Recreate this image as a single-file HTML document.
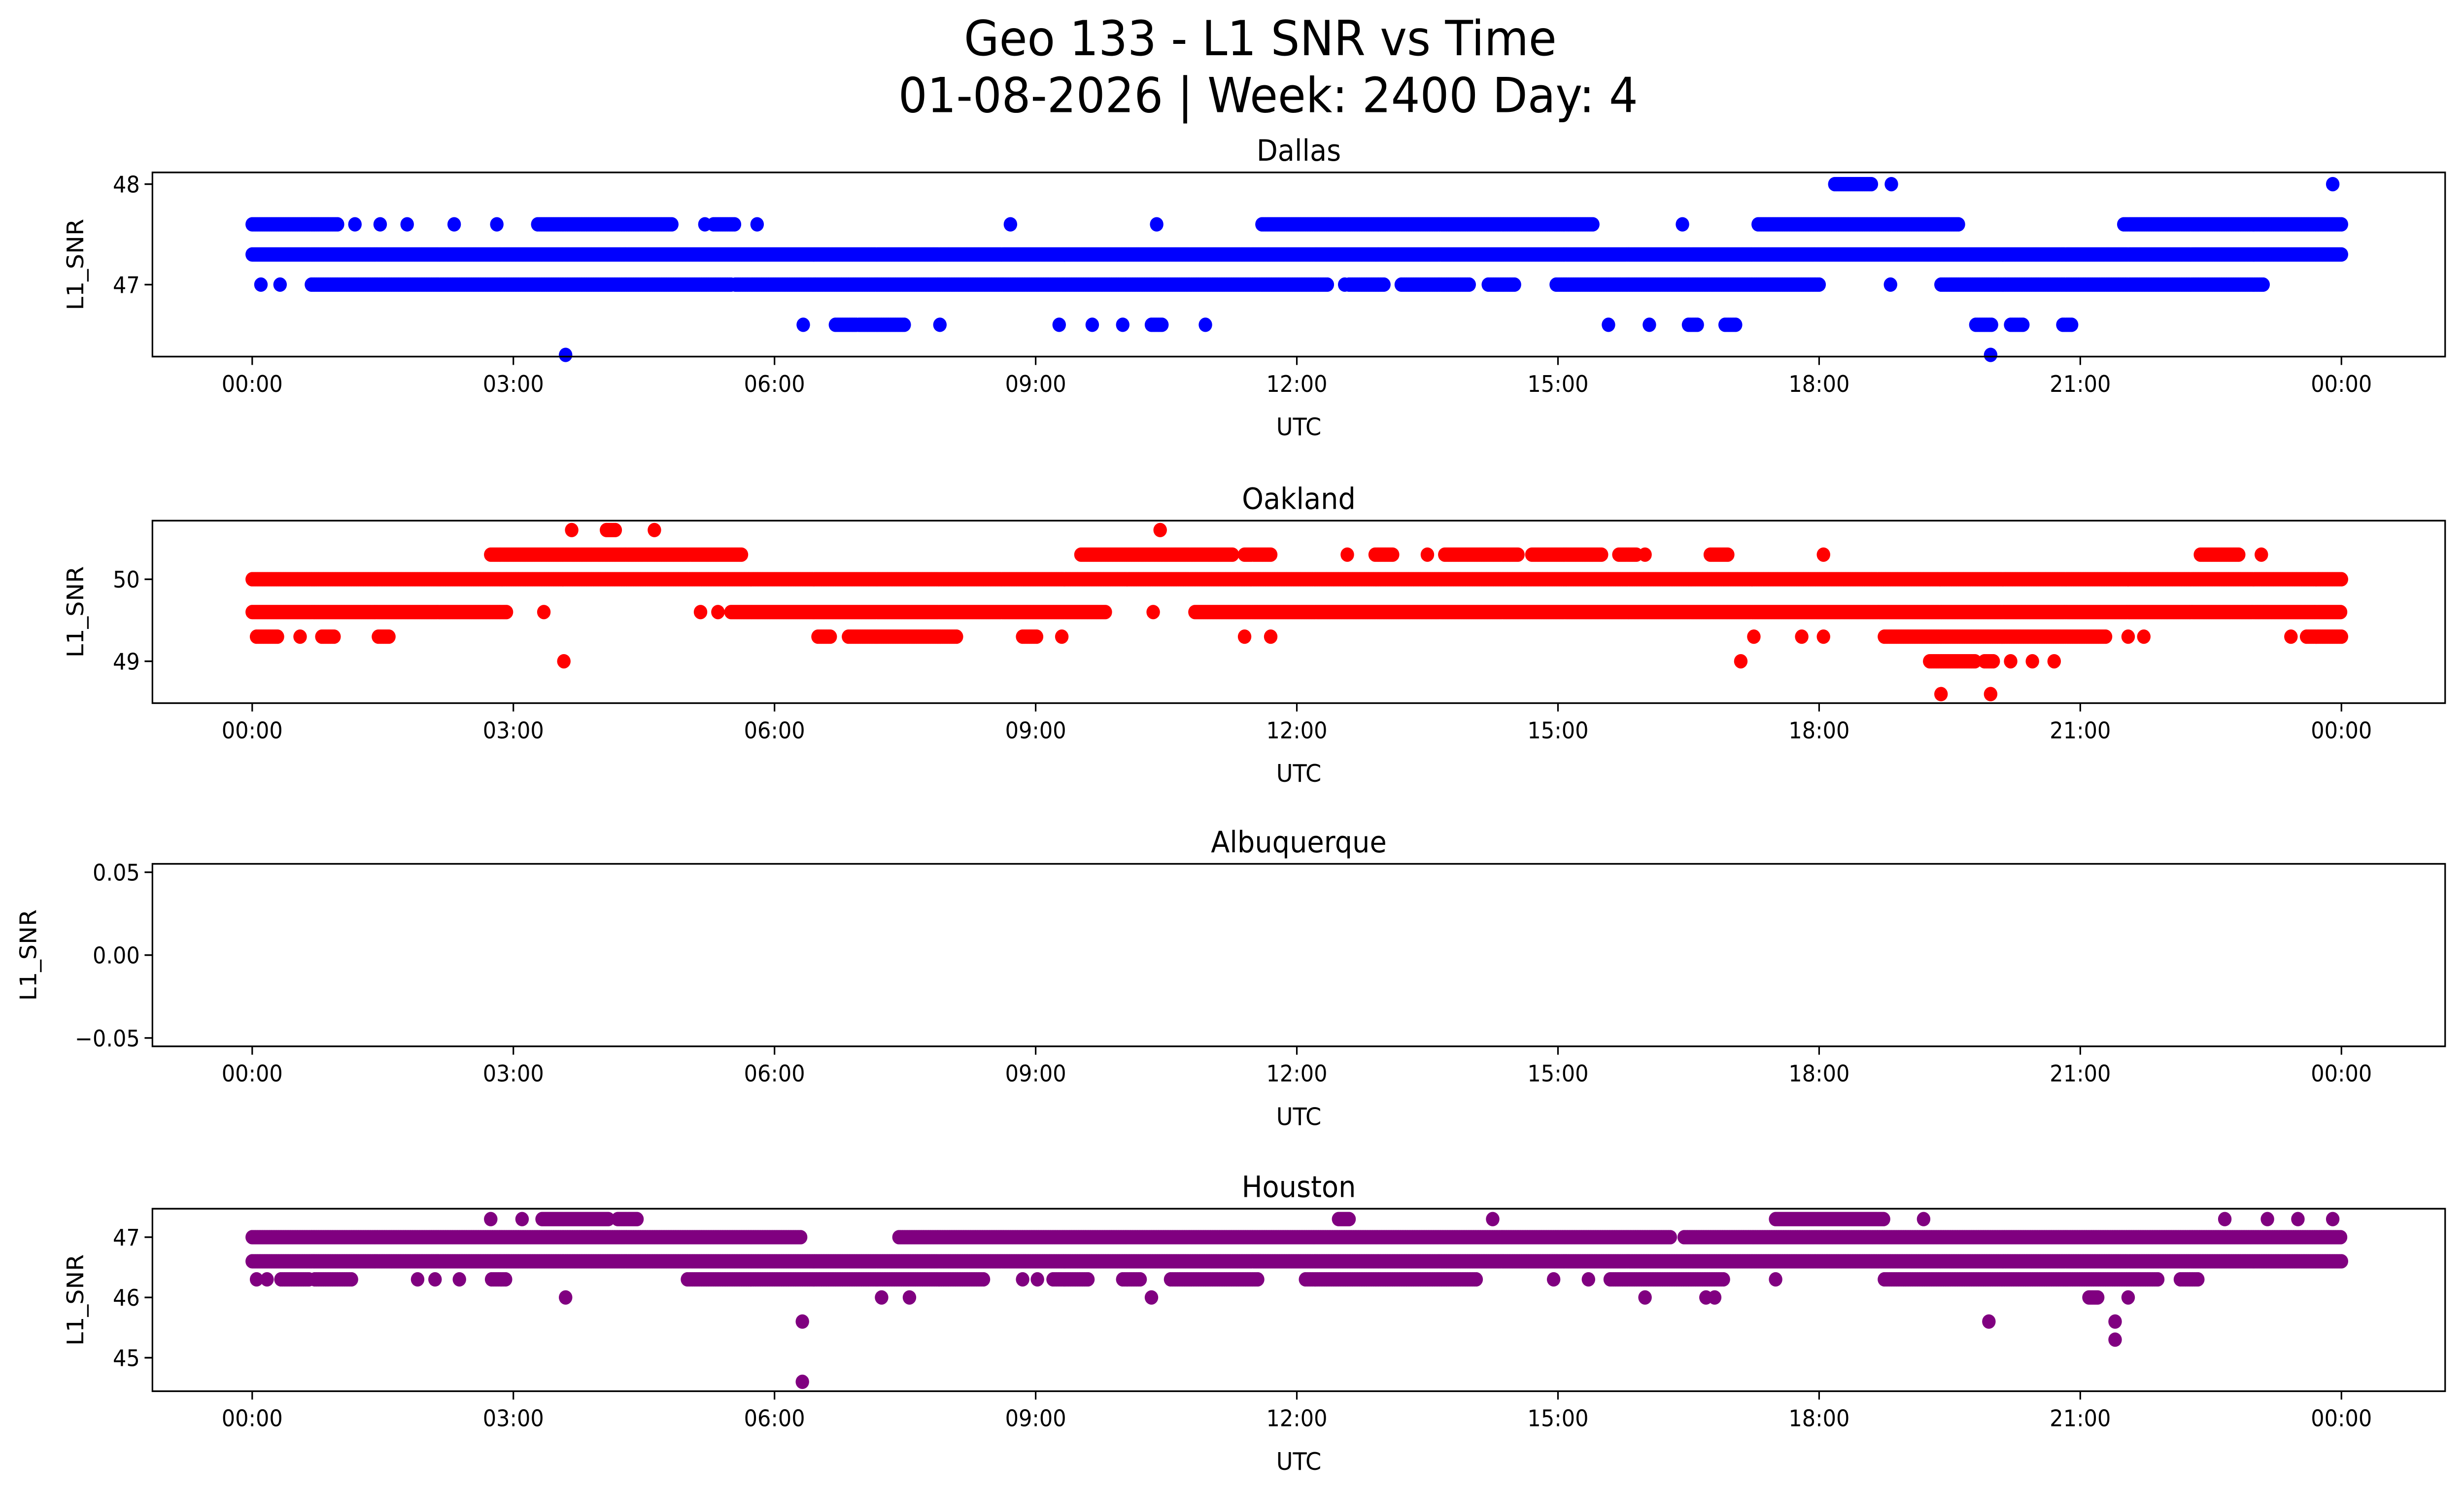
<!DOCTYPE html>
<html><head><meta charset="utf-8">
<style>html,body{margin:0;padding:0;background:#fff;width:100%;height:100%;overflow:hidden}svg{display:block;width:100vw;height:100vh}text{font-family:"DejaVu Sans","Liberation Sans",sans-serif;fill:#000}</style>
</head><body>
<svg id="fig" xmlns="http://www.w3.org/2000/svg" viewBox="0 0 1568 893" preserveAspectRatio="none">
<rect width="1568" height="893" fill="#fff"/>
<text x="802" y="33" font-size="29" text-anchor="middle">Geo 133 - L1 SNR vs Time</text>
<text x="807" y="67" font-size="29" text-anchor="middle">01-08-2026 | Week: 2400 Day: 4</text>
<g id="panels"></g>
</svg>
<script>
// x tick labels (hours)
const xTickHours = [0,3,6,9,12,15,18,21,24];
const xTickLabels = ["00:00","03:00","06:00","09:00","12:00","15:00","18:00","21:00","00:00"];
// panel names
const stations = ["Dallas","Oakland","Albuquerque","Houston"];
// y tick values per panel
const dallasTicks = [47,48];
const oaklandTicks = [49,50];
const albuqTicks = [-0.05,0,0.05];
const houstonTicks = [45,46,47];
// runs: [snr, startHour, endHour]; singles: [snr, hour]
const dallasRuns = [[47.3,0,24],[47.6,0,0.99],[47.6,3.28,4.83],[47.6,5.3,5.55],[47.6,11.6,15.4],[47.6,17.3,19.6],[47.6,21.5,24],
 [47.0,0.68,5.5],[47.0,5.55,12.35],[47.0,12.6,13.0],[47.0,13.2,13.98],[47.0,14.2,14.5],[47.0,14.98,18.0],[47.0,19.4,23.1],
 [46.6,6.7,6.95],[46.6,6.97,7.5],[46.6,10.33,10.45],[46.6,16.5,16.6],[46.6,16.92,17.05],[46.6,19.8,19.98],[46.6,20.2,20.35],[46.6,20.8,20.9],[48.0,18.18,18.6]];
const dallasSingles = [[47.6,1.18],[47.6,1.47],[47.6,1.78],[47.6,2.32],[47.6,2.81],[47.6,5.2],[47.6,5.8],[47.6,8.71],[47.6,10.39],[47.6,16.43],
 [47.0,0.1],[47.0,0.32],[47.0,12.55],[47.0,18.82],[46.6,6.33],[46.6,7.9],[46.6,9.27],[46.6,9.65],[46.6,10.0],[46.6,10.95],[46.6,15.58],[46.6,16.05],
 [46.3,3.6],[46.3,19.97],[48.0,18.83],[48.0,23.9]];
const oaklandRuns = [[50.0,0,24],[49.6,0,2.92],[49.6,5.5,9.8],[49.6,10.83,24],[49.3,0.05,0.3],[49.3,0.8,0.95],[49.3,1.45,1.58],[49.3,6.5,6.65],[49.3,6.85,8.1],[49.3,8.85,9.02],[49.3,18.75,21.3],[49.3,23.6,24],
 [50.3,2.74,5.62],[50.3,9.52,11.27],[50.3,11.4,11.7],[50.3,12.9,13.1],[50.3,13.7,14.55],[50.3,14.7,15.5],[50.3,15.7,15.9],[50.3,16.75,16.95],[50.3,22.38,22.82],
 [50.6,4.07,4.17],[49.0,19.27,19.8],[49.0,19.9,20.0]];
const oaklandSingles = [[49.6,3.35],[49.6,5.15],[49.6,5.35],[49.6,10.35],[49.3,0.55],[49.3,9.3],[49.3,11.4],[49.3,11.7],[49.3,17.25],[49.3,17.8],[49.3,18.05],[49.3,21.55],[49.3,21.73],[49.3,23.42],
 [50.3,12.58],[50.3,13.5],[50.3,16.0],[50.3,18.05],[50.3,23.08],[50.6,3.67],[50.6,4.62],[50.6,10.43],[49.0,3.58],[49.0,17.1],[49.0,20.2],[49.0,20.45],[49.0,20.7],[48.6,19.4],[48.6,19.97]];
const albuqRuns = [];
const albuqSingles = [];
const houstonRuns = [[46.6,0,24],[47.0,0,6.31],[47.0,7.43,16.3],[47.0,16.45,24],[46.3,0.33,0.65],[46.3,0.72,1.15],[46.3,2.75,2.92],[46.3,5.0,8.4],[46.3,9.2,9.6],[46.3,10.0,10.2],[46.3,10.55,11.55],[46.3,12.1,14.07],[46.3,15.6,16.9],[46.3,18.75,21.9],[46.3,22.15,22.35],
 [47.3,3.33,4.1],[47.3,4.2,4.42],[47.3,12.48,12.6],[47.3,17.5,18.75],[46.0,21.1,21.2]];
const houstonSingles = [[46.3,0.05],[46.3,0.17],[46.3,1.9],[46.3,2.1],[46.3,2.38],[46.3,8.85],[46.3,9.02],[46.3,14.95],[46.3,15.35],[46.3,17.5],
 [47.3,2.74],[47.3,3.1],[47.3,14.25],[47.3,19.2],[47.3,22.66],[47.3,23.15],[47.3,23.5],[47.3,23.9],
 [46.0,3.6],[46.0,7.23],[46.0,7.55],[46.0,10.33],[46.0,16.0],[46.0,16.7],[46.0,16.8],[46.0,21.55],[45.6,6.32],[45.6,19.95],[45.6,21.4],[45.3,21.4],[44.6,6.32]];
const dallasColor="#0000ff", oaklandColor="#ff0000", houstonColor="#800080";

const NS="http://www.w3.org/2000/svg";
const X0=97, X1=1556, H0=160.5, H24=1490;
function xScale(h){return H0+(H24-H0)*h/24;}
const panelDefs=[
 {name:stations[0],top:103,bot:213,yA:[48,110],yB:[47,170],ticks:dallasTicks,runs:dallasRuns,singles:dallasSingles,color:dallasColor,ylx:48},
 {name:stations[1],top:311,bot:420,yA:[50,346],yB:[49,395],ticks:oaklandTicks,runs:oaklandRuns,singles:oaklandSingles,color:oaklandColor,ylx:48},
 {name:stations[2],top:516,bot:625,yA:[0.05,521],yB:[0,570.5],ticks:albuqTicks,runs:albuqRuns,singles:albuqSingles,color:"#000",ylx:18},
 {name:stations[3],top:722,bot:831,yA:[47,739],yB:[46,775],ticks:houstonTicks,runs:houstonRuns,singles:houstonSingles,color:houstonColor,ylx:48}];
const root=document.getElementById('panels');
function mk(tag,attrs,parent){const e=document.createElementNS(NS,tag);for(const k in attrs)e.setAttribute(k,attrs[k]);parent.appendChild(e);return e;}
panelDefs.forEach(p=>{
 const slug=p.name.toLowerCase();
 const g=mk('g',{},root);
 
 
 const yScale=v=>p.yB[1]+(v-p.yB[0])*(p.yA[1]-p.yB[1])/(p.yA[0]-p.yB[0]);
 const dots=mk('g',{fill:p.color},g);
 
 
 const pts=[];
 p.runs.forEach(r=>{for(let h=r[1];h<=r[2]+1e-9;h+=0.02)pts.push([r[0],h]);});
 p.singles.forEach(s=>pts.push(s));
 pts.forEach(s=>{const c=mk('circle',{cx:xScale(s[1]).toFixed(2),cy:yScale(s[0]).toFixed(2),r:4.3},dots);
  
  });
 const fr=mk('rect',{x:X0,y:p.top,width:X1-X0,height:p.bot-p.top,fill:'none',stroke:'#000','stroke-width':1},g);
 
 
 xTickHours.forEach((h,i)=>{const x=xScale(h);
  mk('line',{x1:x,x2:x,y1:p.bot,y2:p.bot+5,stroke:'#000','stroke-width':1},g);
  const t=mk('text',{x:x,y:p.bot+21,'font-size':13.5,'text-anchor':'middle'},g);t.textContent=xTickLabels[i];
  
  });
 p.ticks.forEach(v=>{const y=yScale(v);
  mk('line',{x1:X0-5,x2:X0,y1:y,y2:y,stroke:'#000','stroke-width':1},g);
  const t=mk('text',{x:X0-8,y:y+5,'font-size':13.5,'text-anchor':'end'},g);t.textContent=(p.name==="Albuquerque")?(v===0?"0.00":(v<0?"\u22120.05":"0.05")):String(v);
  
  });
 const tt=mk('text',{x:(X0+X1)/2,y:p.top-7,'font-size':17.5,'text-anchor':'middle'},g);tt.textContent=p.name;
 
 
 const xl=mk('text',{x:(X0+X1)/2,y:p.bot+47,'font-size':14.5,'text-anchor':'middle'},g);xl.textContent="UTC";
 
 
 const cy=(p.top+p.bot)/2;
 const yl=mk('text',{x:p.ylx+5,y:cy,'font-size':14.5,'text-anchor':'middle',transform:`rotate(-90 ${p.ylx+5} ${cy})`},g);yl.textContent="L1_SNR";
 
 
});
</script>
</body></html>
